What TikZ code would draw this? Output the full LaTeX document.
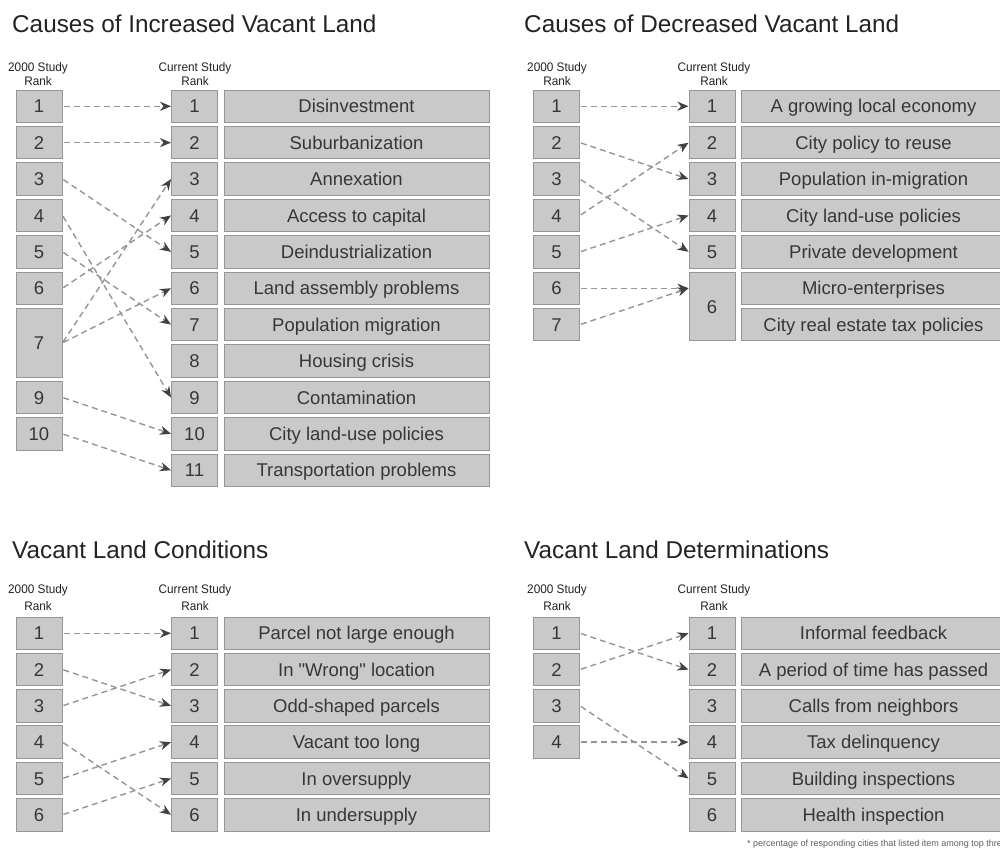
\documentclass[tikz,border=0pt]{standalone}
\usepackage{fontspec}
\setmainfont{Liberation Sans}
\usetikzlibrary{arrows.meta}
\definecolor{boxfill}{RGB}{201,201,201}
\definecolor{boxline}{RGB}{150,150,150}
\definecolor{txt}{RGB}{55,55,55}
\definecolor{linec}{RGB}{150,150,150}
\definecolor{tipc}{RGB}{65,65,65}
\definecolor{titlec}{RGB}{35,35,35}
\tikzset{
  box/.style={draw=boxline, fill=boxfill, line width=1pt, inner sep=0pt, text=txt,
    font=\fontsize{18.5}{18.5}\selectfont, text height=17.3pt, text depth=4pt},
  rk/.style={box, minimum width=46pt, minimum height=32.5pt},
  rkd/.style={box, minimum width=46pt, minimum height=68.9pt},
  lab/.style={box, minimum width=265pt, minimum height=32.5pt},
  con/.style={draw=linec, line width=1.4pt, dash pattern=on 6pt off 4pt, shorten <=1pt,
    -{Stealth[length=11pt, width=9pt, inset=3.5pt, color=tipc]}},
  ttl/.style={anchor=base west, inner sep=0pt, text=titlec, font=\fontsize{24.3}{24.3}\selectfont},
  hdr/.style={align=center, inner sep=0pt, text=titlec, font=\fontsize{12.4}{14.5}\selectfont},
  hdrb/.style={align=center, inner sep=0pt, text=titlec, font=\fontsize{12.4}{17}\selectfont},
  note/.style={anchor=base west, inner sep=0pt, text=txt!80, font=\fontsize{9}{9}\selectfont}
}
\begin{document}
\begin{tikzpicture}[x=1pt, y=-1pt]
\useasboundingbox (0,0) rectangle (1000,851);
\clip (0,0) rectangle (1000,851);
\fill[white] (0,0) rectangle (1000,851);

% ---------- Panel A: Causes of Increased Vacant Land ----------
\node[ttl] (tA) at (12,33) {Causes of Increased Vacant Land};
\node[hdr] (hAl) at (38,74) {\scalebox{0.95}[1]{2000 Study}\\\scalebox{0.95}[1]{Rank}};
\node[hdr] (hAr) at (195,74) {\scalebox{0.95}[1]{Current Study}\\\scalebox{0.95}[1]{Rank}};
\foreach \k/\t in {1/Disinvestment, 2/Suburbanization, 3/Annexation, 4/Access to capital,
  5/Deindustrialization, 6/Land assembly problems, 7/Population migration, 8/Housing crisis,
  9/Contamination, 10/City land-use policies, 11/Transportation problems} {
  \node[rk] (Ar\k) at (194.5, {106.25+(\k-1)*36.4}) {\k};
  \node[lab] (At\k) at (356.5, {106.25+(\k-1)*36.4}) {\t};
}
\foreach \k in {1,2,3,4,5,6,9,10} {
  \node[rk] (Al\k) at (39, {106.25+(\k-1)*36.4}) {\k};
}
\node[rkd] (Al7) at (39, 342.85) {7};
\foreach \a/\b in {1/1,2/2,3/5,4/9,5/7,6/4,7/3,7/6,9/10,10/11} {
  \draw[con] (Al\a.east) -- (Ar\b.west);
}

% ---------- Panel B: Causes of Decreased Vacant Land ----------
\node[ttl] (tB) at (524,33) {Causes of Decreased Vacant Land};
\node[hdr] (hBl) at (557,74) {\scalebox{0.95}[1]{2000 Study}\\\scalebox{0.95}[1]{Rank}};
\node[hdr] (hBr) at (714,74) {\scalebox{0.95}[1]{Current Study}\\\scalebox{0.95}[1]{Rank}};
\foreach \k/\t in {1/A growing local economy, 2/City policy to reuse, 3/Population in-migration,
  4/City land-use policies, 5/Private development, 6/Micro-enterprises, 7/City real estate tax policies} {
  \node[lab] (Bt\k) at (873.5, {106.25+(\k-1)*36.4}) {\t};
  \node[rk] (Bl\k) at (556.5, {106.25+(\k-1)*36.4}) {\k};
}
\foreach \k in {1,...,5} {
  \node[rk] (Br\k) at (712, {106.25+(\k-1)*36.4}) {\k};
}
\node[rkd] (Br6) at (712, 306.45) {6};
\coordinate (Br6in) at (Br6.west |- Bl6.east);
\foreach \a/\b in {1/1,2/3,3/5,4/2,5/4} {
  \draw[con] (Bl\a.east) -- (Br\b.west);
}
\draw[con] (Bl6.east) -- (Br6in);
\draw[con] (Bl7.east) -- (Br6in);

% ---------- Panel C: Vacant Land Conditions ----------
\node[ttl] (tC) at (12,558) {Vacant Land Conditions};
\node[hdrb] (hCl) at (38,598) {\scalebox{0.95}[1]{2000 Study}\\\scalebox{0.95}[1]{Rank}};
\node[hdrb] (hCr) at (195,598) {\scalebox{0.95}[1]{Current Study}\\\scalebox{0.95}[1]{Rank}};
\foreach \k/\t in {1/Parcel not large enough, 2/In \textquotedbl Wrong\textquotedbl\ location, 3/Odd-shaped parcels,
  4/Vacant too long, 5/In oversupply, 6/In undersupply} {
  \node[rk] (Cl\k) at (39, {633.25+(\k-1)*36.3}) {\k};
  \node[rk] (Cr\k) at (194.5, {633.25+(\k-1)*36.3}) {\k};
  \node[lab] (Ct\k) at (356.5, {633.25+(\k-1)*36.3}) {\t};
}
\foreach \a/\b in {1/1,2/3,3/2,4/6,5/4,6/5} {
  \draw[con] (Cl\a.east) -- (Cr\b.west);
}

% ---------- Panel D: Vacant Land Determinations ----------
\node[ttl] (tD) at (524,558) {Vacant Land Determinations};
\node[hdrb] (hDl) at (557,598) {\scalebox{0.95}[1]{2000 Study}\\\scalebox{0.95}[1]{Rank}};
\node[hdrb] (hDr) at (714,598) {\scalebox{0.95}[1]{Current Study}\\\scalebox{0.95}[1]{Rank}};
\foreach \k/\t in {1/Informal feedback, 2/A period of time has passed, 3/Calls from neighbors,
  4/Tax delinquency, 5/Building inspections, 6/Health inspection} {
  \node[rk] (Dr\k) at (712, {633.25+(\k-1)*36.3}) {\k};
  \node[lab] (Dt\k) at (873.5, {633.25+(\k-1)*36.3}) {\t};
}
\foreach \k in {1,...,4} {
  \node[rk] (Dl\k) at (556.5, {633.25+(\k-1)*36.3}) {\k};
}
\foreach \a/\b in {1/2,2/1,3/5,4/4} {
  \draw[con] (Dl\a.east) -- (Dr\b.west);
}

\node[note] (fn) at (747,846) {* percentage of responding cities that listed item among top thre};
\end{tikzpicture}
\end{document}
